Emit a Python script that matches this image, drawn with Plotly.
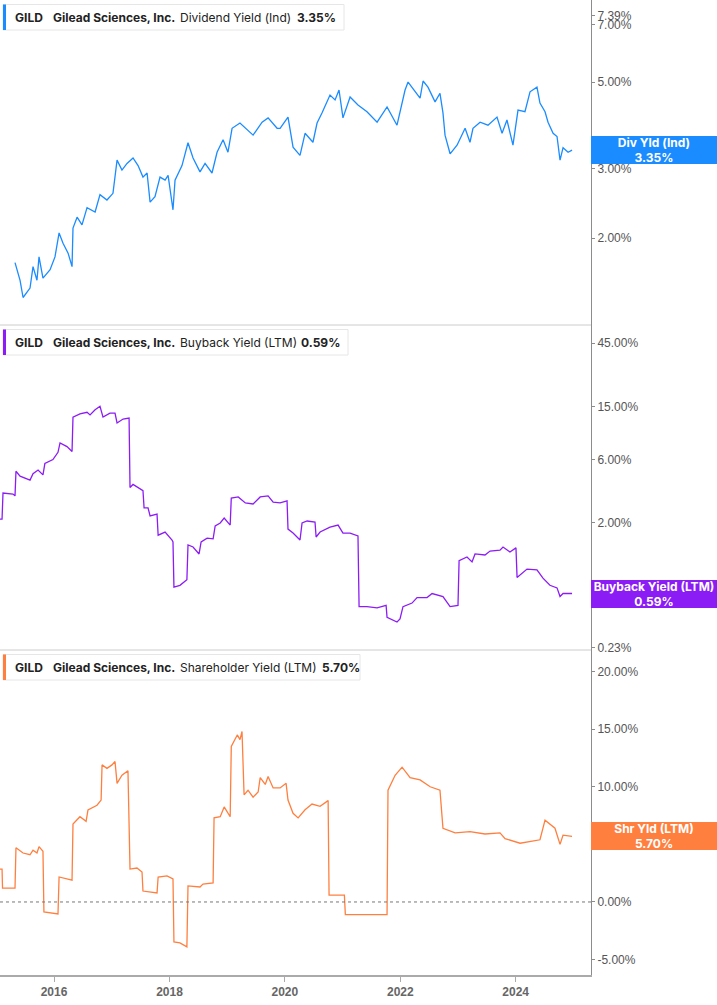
import math
import plotly.graph_objects as go

# ---------------- data ----------------
div_dates = ["2015-04-29","2015-05-31","2015-06-19","2015-08-02","2015-08-21","2015-09-15","2015-09-28","2015-10-23",
             "2015-12-07","2016-01-07","2016-02-02","2016-02-27","2016-03-30","2016-04-24","2016-04-30","2016-05-26",
             "2016-06-26","2016-07-28","2016-09-17","2016-10-18","2016-12-01","2017-01-08","2017-02-03","2017-03-06",
             "2017-04-07","2017-05-15","2017-06-16","2017-07-17","2017-08-12","2017-08-31","2017-10-01","2017-11-02",
             "2017-12-04","2017-12-23","2018-01-23","2018-02-05","2018-03-21","2018-04-28","2018-05-30","2018-07-13",
             "2018-08-14","2018-09-27","2018-10-29","2018-12-06","2019-01-06","2019-02-01","2019-03-23","2019-05-07",
             "2019-06-14","2019-08-10","2019-09-17","2019-11-13","2019-12-02","2020-01-21","2020-02-22","2020-04-06",
             "2020-05-08","2020-06-27","2020-07-23","2020-08-23","2020-10-13","2020-11-14","2020-12-09","2021-01-03",
             "2021-02-17","2021-04-08","2021-06-04","2021-08-07","2021-10-09","2021-12-11","2021-12-30","2022-01-31",
             "2022-02-19","2022-04-04","2022-05-06","2022-05-25","2022-06-25","2022-08-09","2022-09-09","2022-09-28",
             "2022-10-11","2022-11-12","2022-12-26","2023-02-15","2023-03-18","2023-04-06","2023-05-21","2023-07-10",
             "2023-09-05","2023-10-07","2023-11-07","2023-12-15","2024-01-16","2024-02-29","2024-04-01","2024-05-15",
             "2024-06-03","2024-07-05","2024-07-24","2024-08-25","2024-09-19","2024-10-08","2024-10-27","2024-11-28",
             "2024-12-23"]
div_yield = [1.73,1.56,1.41,1.49,1.69,1.56,1.79,1.58,
             1.66,1.79,2.06,1.94,1.83,1.69,2.12,2.26,
             2.16,2.39,2.33,2.58,2.50,2.60,3.16,2.98,
             3.10,3.20,3.06,2.86,2.93,2.47,2.55,2.86,
             2.81,2.89,2.36,2.81,3.06,3.50,3.20,2.95,
             3.10,2.93,3.31,3.56,3.31,3.81,3.93,3.77,
             3.66,3.95,4.05,3.81,3.81,4.07,3.41,3.25,
             3.70,3.51,3.93,4.17,4.63,4.50,4.77,4.05,
             4.58,4.37,4.20,3.95,4.32,3.88,4.20,4.77,
             5.00,4.72,4.55,5.03,4.85,4.45,4.68,4.17,
             3.66,3.28,3.45,3.81,3.51,3.81,3.95,3.88,
             4.07,3.70,4.00,3.45,4.24,4.20,4.72,4.85,
             4.42,4.20,3.95,3.70,3.63,3.16,3.40,3.31,
             3.35]

bb_dates = ["2015-01-24","2015-02-06","2015-02-12","2015-04-16","2015-04-29","2015-05-05","2015-05-31","2015-08-02",
            "2015-08-21","2015-09-22","2015-10-23","2015-11-04","2015-12-25","2016-01-26","2016-02-08","2016-03-23",
            "2016-04-24","2016-04-30","2016-06-13","2016-07-28","2016-08-16","2016-09-17","2016-10-18","2016-11-06",
            "2016-12-20","2017-01-21","2017-02-03","2017-03-13","2017-04-20","2017-04-26","2017-05-15","2017-06-16",
            "2017-07-17","2017-07-24","2017-08-18","2017-08-31","2017-10-14","2017-10-21","2017-12-04","2018-01-17",
            "2018-01-23","2018-01-29","2018-03-08","2018-04-21","2018-04-28","2018-05-30","2018-07-07","2018-07-20",
            "2018-08-27","2018-10-04","2018-10-17","2018-11-18","2018-12-13","2019-01-20","2019-01-27","2019-03-12",
            "2019-04-26","2019-06-14","2019-07-29","2019-09-17","2019-10-19","2019-12-02","2020-01-15","2020-01-21",
            "2020-02-22","2020-04-06","2020-04-19","2020-05-21","2020-07-10","2020-07-17","2020-08-11","2020-10-13",
            "2020-12-03","2021-01-03","2021-02-17","2021-04-08","2021-04-15","2021-06-04","2021-08-07","2021-10-03",
            "2021-10-09","2021-12-11","2021-12-30","2022-01-18","2022-03-16","2022-04-17","2022-06-19","2022-07-21",
            "2022-09-28","2022-11-12","2023-01-01","2023-01-08","2023-02-27","2023-03-31","2023-04-19","2023-06-21",
            "2023-07-23","2023-09-24","2023-10-13","2023-11-26","2024-01-03","2024-01-10","2024-03-13","2024-05-15",
            "2024-06-22","2024-08-05","2024-09-19","2024-10-08","2024-10-27","2024-12-23"]
bb_yield = [2.14,2.14,3.36,3.30,3.20,4.90,4.50,4.20,
            4.70,5.00,4.60,5.60,6.00,6.80,8.00,7.50,
            6.90,12.5,13.2,13.6,13.0,14.2,15.1,12.5,
            13.4,13.4,11.3,12.1,12.3,3.70,3.90,3.70,
            3.50,2.60,2.60,2.26,2.33,1.62,1.71,1.49,
            1.44,0.66,0.68,0.75,1.37,1.32,1.17,1.44,
            1.54,1.52,1.90,2.00,2.18,1.93,3.08,3.14,
            2.83,2.78,3.14,3.20,2.87,2.83,2.93,1.80,
            1.68,1.49,2.00,2.07,2.03,1.57,1.71,1.86,
            1.93,1.68,1.68,1.60,0.47,0.47,0.46,0.48,
            0.39,0.36,0.38,0.47,0.50,0.55,0.55,0.59,
            0.56,0.47,0.48,1.04,1.11,1.02,1.17,1.15,
            1.23,1.25,1.32,1.21,1.30,0.78,0.90,0.89,
            0.77,0.68,0.65,0.56,0.59,0.59]

shr_dates = ["2015-01-24","2015-02-06","2015-02-09","2015-04-29","2015-05-05","2015-06-19","2015-08-02","2015-08-21",
             "2015-09-15","2015-09-28","2015-10-23","2015-10-29","2016-01-26","2016-02-02","2016-04-24","2016-04-30",
             "2016-06-13","2016-07-22","2016-08-03","2016-09-29","2016-10-25","2016-10-31","2016-12-01","2017-01-02",
             "2017-01-21","2017-02-03","2017-03-06","2017-04-13","2017-04-26","2017-06-09","2017-07-11","2017-07-17",
             "2017-10-14","2017-10-21","2017-12-16","2018-01-23","2018-01-29","2018-03-08","2018-04-21","2018-04-28",
             "2018-07-13","2018-08-01","2018-10-04","2018-10-10","2018-11-18","2018-12-13","2019-01-20","2019-01-27",
             "2019-03-06","2019-03-23","2019-04-05","2019-04-18","2019-05-13","2019-06-14","2019-07-16","2019-07-29",
             "2019-08-30","2019-09-17","2019-10-19","2019-12-02","2020-01-09","2020-01-21","2020-02-22","2020-03-25",
             "2020-05-08","2020-06-21","2020-08-11","2020-10-01","2020-10-07","2021-01-12","2021-01-18","2021-10-09",
             "2021-10-15","2021-11-29","2022-01-12","2022-03-04","2022-05-06","2022-07-09","2022-09-09","2022-09-28",
             "2022-12-14","2023-03-18","2023-06-21","2023-09-24","2023-10-26","2024-01-29","2024-06-03","2024-07-05",
             "2024-09-06","2024-10-08","2024-10-27","2024-12-23"]
shr_yield = [2.86,2.86,1.20,1.20,4.70,4.25,4.10,4.50,
             4.25,4.80,4.40,-0.87,-1.04,2.17,1.90,6.77,
             7.40,7.00,8.00,8.40,8.85,11.9,11.6,11.9,
             12.2,10.3,11.0,11.4,2.86,2.95,2.60,0.95,
             0.78,2.17,2.26,2.00,-3.47,-3.56,-3.90,1.39,
             1.30,1.56,1.65,7.30,7.40,8.25,7.40,13.5,
             14.5,14.1,14.8,9.30,9.70,9.10,9.55,10.8,
             10.2,10.9,9.90,9.90,10.3,8.85,7.70,7.30,
             8.00,8.50,8.30,8.80,0.60,0.60,-1.10,-1.10,
             9.70,11.0,11.7,10.8,10.6,10.0,9.70,6.40,
             6.00,6.10,5.90,6.00,5.50,5.10,5.40,7.10,
             6.40,5.00,5.80,5.70]

div_ticks = [2, 3, 5, 7, 7.39]
bb_ticks = [0.23, 0.69, 2, 6, 15, 45]
shr_ticks = [-5, 0, 5, 10, 15, 20]

# ---------------- styling ----------------
BLUE = "#1a8cff"
PURPLE = "#8c1cf5"
ORANGE = "#ff7f3f"
W, H = 717, 1005
PW = 591.0   # plot width in px
PH = 975.0   # plot height in px


def px(x):
    return x / PW


def py(y):
    return 1 - y / PH


fig = go.Figure()
fig.add_trace(go.Scatter(x=div_dates, y=div_yield, mode="lines", line=dict(color=BLUE, width=1.3),
                         xaxis="x", yaxis="y", hoverinfo="skip"))
fig.add_trace(go.Scatter(x=bb_dates, y=bb_yield, mode="lines", line=dict(color=PURPLE, width=1.3),
                         xaxis="x2", yaxis="y2", hoverinfo="skip"))
fig.add_trace(go.Scatter(x=shr_dates, y=shr_yield, mode="lines", line=dict(color=ORANGE, width=1.3),
                         xaxis="x3", yaxis="y3", hoverinfo="skip"))

xr = ["2015-01-24", "2025-04-22"]
tickfont = dict(family="Liberation Sans, Arial, sans-serif", size=12, color="#555")
common_y = dict(side="right", showgrid=False, zeroline=False, showline=True, linecolor="#8c8c8c",
                linewidth=1, ticks="outside", ticklen=3, tickcolor="#8c8c8c", tickfont=tickfont)
common_x = dict(range=xr, showgrid=False, zeroline=False, type="date")

fig.update_layout(
    width=W, height=H, margin=dict(l=0, r=W - PW, t=0, b=H - PH),
    paper_bgcolor="white", plot_bgcolor="white", showlegend=False,
    xaxis=dict(**common_x, domain=[0, 1], anchor="y", matches="x3", showticklabels=False, showline=False),
    xaxis2=dict(**common_x, domain=[0, 1], anchor="y2", matches="x3", showticklabels=False, showline=False),
    xaxis3=dict(**common_x, domain=[0, 1], anchor="y3", showline=True, linecolor="#aaaaaa", linewidth=1.5,
                ticks="outside", ticklen=5, tickcolor="#aaaaaa",
                tickvals=["2016-01-01", "2018-01-01", "2020-01-01", "2022-01-01", "2024-01-01"],
                ticktext=["<b>2016</b>", "<b>2018</b>", "<b>2020</b>", "<b>2022</b>", "<b>2024</b>"],
                tickfont=dict(family="Liberation Sans, Arial, sans-serif", size=12, color="#666")),
    yaxis=dict(**common_y, type="log", domain=[py(325), 1], anchor="x", range=[0.0791, 0.9082],
               tickvals=div_ticks, ticktext=[f"{v:.2f}%" for v in div_ticks]),
    yaxis2=dict(**common_y, type="log", domain=[py(650), py(325)], anchor="x2", range=[-0.6539, 1.7897],
                tickvals=bb_ticks, ticktext=[f"{v:.2f}%" for v in bb_ticks]),
    yaxis3=dict(**common_y, type="linear", domain=[0, py(650)], anchor="x3", range=[-6.34, 21.875],
                tickvals=shr_ticks, ticktext=[f"{v:.2f}%" for v in shr_ticks]),
    hovermode=False,
)

shapes = []
# panel separators
for yy in (325, 650):
    shapes.append(dict(type="line", xref="paper", yref="paper", x0=0, x1=1, y0=py(yy), y1=py(yy),
                       line=dict(color="#cccccc", width=1)))
# zero dotted line
shapes.append(dict(type="line", xref="paper", yref="y3", x0=0, x1=1, y0=0, y1=0,
                   line=dict(color="#777777", width=1, dash="dot")))

annotations = []
legends = [
    (0, 344, BLUE, "Dividend Yield (Ind)", "3.35%", 295),
    (325, 348, PURPLE, "Buyback Yield (LTM)", "0.59%", 299),
    (650, 360, ORANGE, "Shareholder Yield (LTM)", "5.70%", 320),
]
lfont = "Inter, Noto Sans, sans-serif"
for top, right, col, label, val, vx in legends:
    y0, y1 = top + 4.5, top + 30
    shapes.append(dict(type="rect", xref="paper", yref="paper", x0=px(3), x1=px(right), y0=py(y1), y1=py(y0),
                       line=dict(color="#e6e6e6", width=1), fillcolor="white", layer="above"))
    shapes.append(dict(type="rect", xref="paper", yref="paper", x0=px(3), x1=px(6), y0=py(y1), y1=py(y0),
                       line=dict(width=0), fillcolor=col, layer="above"))
    yc = py(top + 17.5)
    for xx, txt in ((13, "<b>GILD</b>"), (51, "<b>Gilead Sciences, Inc.</b>"), (178, label), (vx, f"<b>{val}</b>")):
        annotations.append(dict(xref="paper", yref="paper", x=px(xx), y=yc, xanchor="left", yanchor="middle",
                                text=txt, showarrow=False, font=dict(family=lfont, size=12, color="#222")))

# right-side value badges
badges = [("y", 3.35, BLUE, "Div Yld (Ind)", "3.35%", True),
          ("y2", 0.59, PURPLE, "Buyback Yield (LTM)", "0.59%", True),
          ("y3", 5.70, ORANGE, "Shr Yld (LTM)", "5.70%", False)]
for yref, v, col, name, val, islog in badges:
    annotations.append(dict(xref="paper", yref=yref, x=1, y=math.log10(v) if islog else v,
                            xanchor="left", yanchor="middle", showarrow=False,
                            text=f"<b>{name}</b><br><b>{val}</b>", align="center",
                            width=124, height=26, borderpad=1, bgcolor=col, bordercolor=col, borderwidth=0,
                            font=dict(family=lfont, size=12, color="white")))

fig.update_layout(shapes=shapes, annotations=annotations)
fig.write_html("out.html", config={"displayModeBar": False},
               post_script="document.body.style.margin='0px';document.body.style.padding='0px';")
